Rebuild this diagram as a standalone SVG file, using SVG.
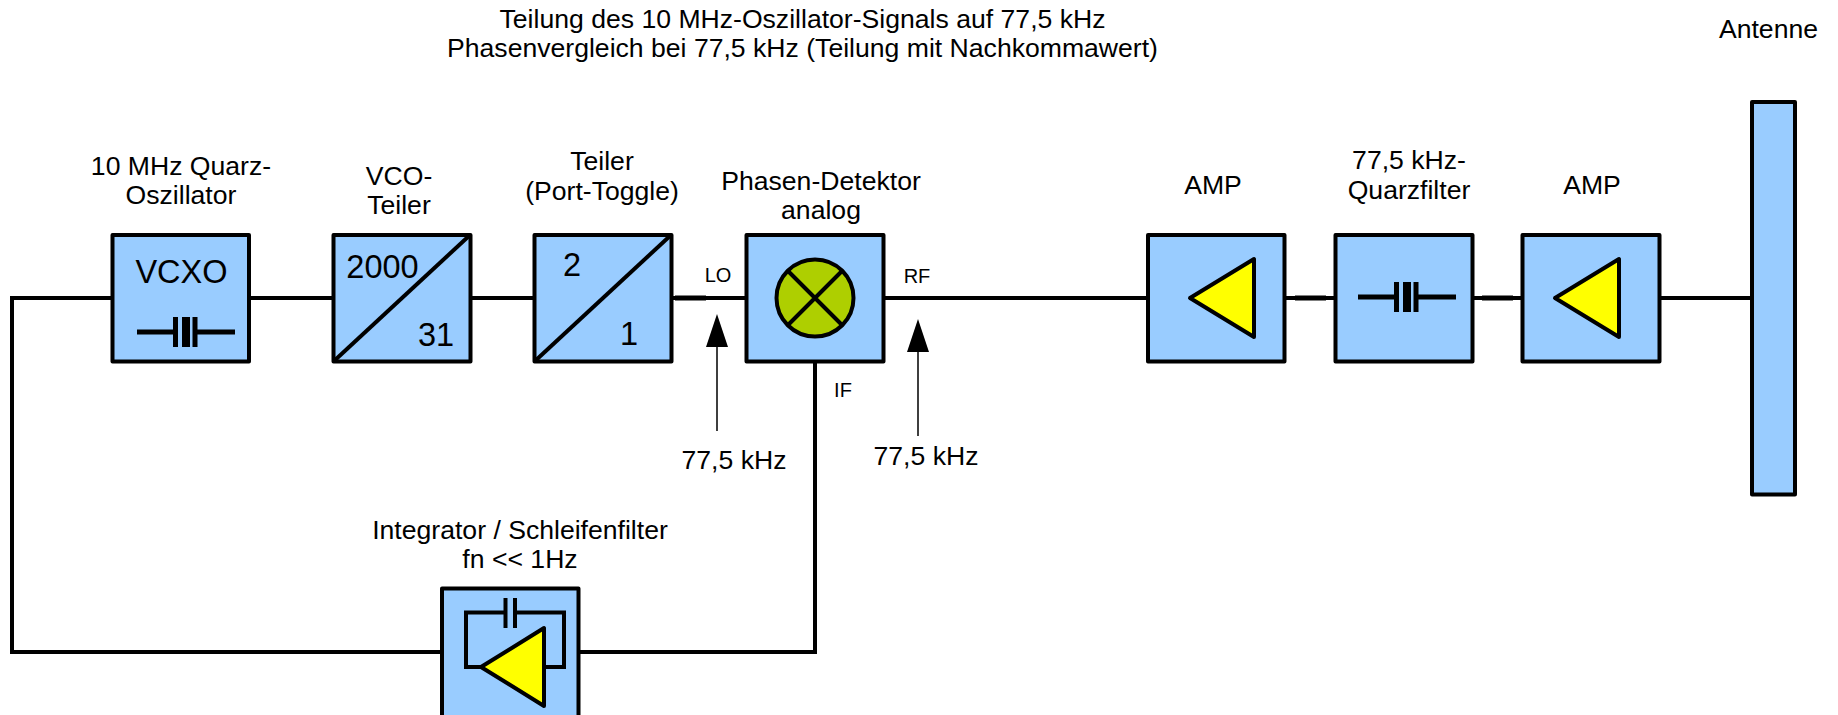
<svg xmlns="http://www.w3.org/2000/svg" width="1838" height="715" viewBox="0 0 1838 715">
<style>
text{font-family:"Liberation Sans",Arial,sans-serif;fill:#000;text-anchor:middle}
.t{font-size:26.6px}
.s{font-size:20px}
.n{font-size:32.500px}
.box{fill:#99ccff;stroke:#000;stroke-width:4;stroke-linejoin:round}
.w{fill:none;stroke:#000;stroke-width:4}
.tri{fill:#ffff00;stroke:#000;stroke-width:4;stroke-linejoin:round}
.thin{fill:none;stroke:#000;stroke-width:1.5}
</style>
<defs>
<g id="xtal"><path d="M-49 0H-12M10 0H49M-10.500 -15V15M9 -15V15" fill="none" stroke="#000" stroke-width="5"/><rect x="-4" y="-15" width="8" height="30" fill="#000"/></g>
</defs>
<g id="connectors">
<path class="w" d="M113 298H12V652H442"/>
<path class="w" d="M249 298H334M471 298H535M672 298H747M883 298H1148M1285 298H1336M1472 298H1523M1659 298H1753"/>
<path class="w" d="M815 361V652H578"/>
<path d="M1295 298H1326M1482 298H1513M675 298H706" fill="none" stroke="#000" stroke-width="5"/>
<path class="thin" d="M717 431V340M918 436V345"/>
<path d="M717 314L728 347H706Z M918 319L929 352H907Z" fill="#000"/>
</g>
<g id="title">
<text class="t" x="802.500" y="28">Teilung des 10 MHz-Oszillator-Signals auf 77,5 kHz</text>
<text class="t" x="802.500" y="57">Phasenvergleich bei 77,5 kHz (Teilung mit Nachkommawert)</text>
</g>
<g id="vcxo">
<rect class="box" x="112.500" y="235" width="136.500" height="126.500"/>
<text class="n" x="181.500" y="282.500">VCXO</text>
<use href="#xtal" x="186" y="332"/>
<text class="t" x="181" y="174.500">10 MHz Quarz-</text>
<text class="t" x="181" y="204">Oszillator</text>
</g>
<g id="vco-teiler">
<rect class="box" x="333.500" y="235" width="137" height="126.500"/>
<path class="w" d="M334 361L470 235"/>
<text class="n" x="382.500" y="277.500">2000</text>
<text class="n" x="436" y="346">31</text>
<text class="t" x="399" y="184.500">VCO-</text>
<text class="t" x="399" y="214">Teiler</text>
</g>
<g id="teiler">
<rect class="box" x="534.500" y="235" width="137" height="126.500"/>
<path class="w" d="M535 361L671 235"/>
<text class="n" x="572" y="276">2</text>
<text class="n" x="629" y="345">1</text>
<text class="t" x="602" y="169.500">Teiler</text>
<text class="t" x="602" y="199.500">(Port-Toggle)</text>
</g>
<g id="phasen-detektor">
<rect class="box" x="746.500" y="235" width="137" height="126.500"/>
<circle cx="815" cy="298" r="38.500" fill="#aecf00" stroke="#000" stroke-width="4"/>
<path class="w" d="M787.500 270.500L842.500 325.500M842.500 270.500L787.500 325.500"/>
<text class="t" x="821" y="189.500">Phasen-Detektor</text>
<text class="t" x="821" y="219">analog</text>
</g>
<g id="labels">
<text class="s" x="718" y="282">LO</text>
<text class="s" x="917" y="282.500">RF</text>
<text class="s" x="843" y="397">IF</text>
<text class="t" x="734" y="469">77,5 kHz</text>
<text class="t" x="926" y="465">77,5 kHz</text>
</g>
<g id="amp1">
<rect class="box" x="1148" y="235" width="136.500" height="126.500"/>
<path class="tri" d="M1190 298L1254 259V337Z"/>
<text class="t" x="1213" y="194">AMP</text>
</g>
<g id="quarzfilter">
<rect class="box" x="1335.500" y="235" width="137" height="126.500"/>
<use href="#xtal" x="1407" y="297"/>
<text class="t" x="1409" y="169">77,5 kHz-</text>
<text class="t" x="1409" y="199">Quarzfilter</text>
</g>
<g id="amp2">
<rect class="box" x="1522.500" y="235" width="137" height="126.500"/>
<path class="tri" d="M1555 298L1619 259V337Z"/>
<text class="t" x="1592" y="194">AMP</text>
</g>
<g id="antenne">
<rect class="box" x="1752" y="102" width="43" height="392.500"/>
<text class="t" x="1768.500" y="37.500">Antenne</text>
</g>
<g id="integrator">
<rect class="box" x="442" y="588.500" width="136.500" height="130"/>
<path class="w" d="M505 612.500H466V667H483M545 667H564V612.500H515M505.500 598V628M515 598V628"/>
<path class="tri" d="M481 667L544 628V706Z"/>
<text class="t" x="520" y="539">Integrator / Schleifenfilter</text>
<text class="t" x="520" y="568">fn &lt;&lt; 1Hz</text>
</g>
</svg>
